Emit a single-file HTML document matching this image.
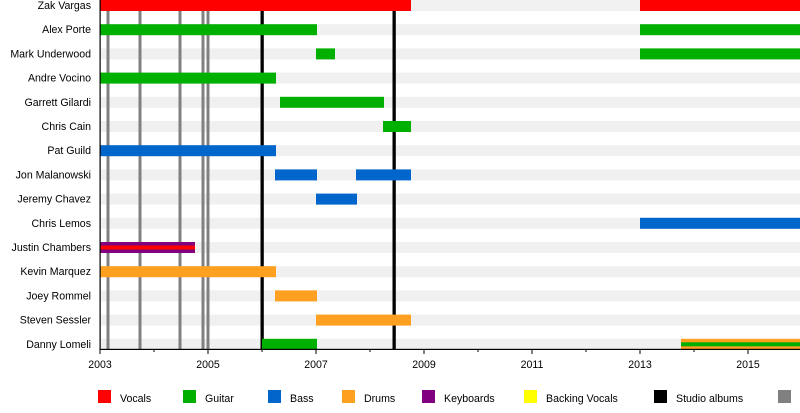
<!DOCTYPE html>
<html><head><meta charset="utf-8"><style>
html,body{margin:0;padding:0;background:#fff;}
svg text{font-family:"Liberation Sans",Arial,sans-serif;font-size:10.6px;fill:#000;}
</style></head><body>
<svg width="800" height="408" xmlns="http://www.w3.org/2000/svg">
<g fill="#f0f0f0">
<rect x="100" y="0" width="700" height="11"/>
<rect x="100" y="24.2" width="700" height="11"/>
<rect x="100" y="48.4" width="700" height="11"/>
<rect x="100" y="72.6" width="700" height="11"/>
<rect x="100" y="96.8" width="700" height="11"/>
<rect x="100" y="121" width="700" height="11"/>
<rect x="100" y="145.2" width="700" height="11"/>
<rect x="100" y="169.4" width="700" height="11"/>
<rect x="100" y="193.6" width="700" height="11"/>
<rect x="100" y="217.8" width="700" height="11"/>
<rect x="100" y="242" width="700" height="11"/>
<rect x="100" y="266.2" width="700" height="11"/>
<rect x="100" y="290.4" width="700" height="11"/>
<rect x="100" y="314.6" width="700" height="11"/>
<rect x="100" y="338.8" width="700" height="11"/>
</g>
<g fill="#808080">
<rect x="106.5" y="0" width="3" height="349"/>
<rect x="138.5" y="0" width="3" height="349"/>
<rect x="178.5" y="0" width="3" height="349"/>
<rect x="201.5" y="0" width="3" height="349"/>
<rect x="206.5" y="0" width="3" height="349"/>
</g>
<g fill="#000">
<rect x="260.5" y="0" width="3.3" height="349"/>
<rect x="392.5" y="0" width="3.3" height="349"/>
</g>
<g>
<rect x="100" y="0" width="311" height="11" fill="#ff0000"/>
<rect x="640" y="0" width="160" height="11" fill="#ff0000"/>
<rect x="100" y="24.2" width="217" height="11" fill="#00b000"/>
<rect x="640" y="24.2" width="160" height="11" fill="#00b000"/>
<rect x="316" y="48.4" width="19" height="11" fill="#00b000"/>
<rect x="640" y="48.4" width="160" height="11" fill="#00b000"/>
<rect x="100" y="72.6" width="176" height="11" fill="#00b000"/>
<rect x="280" y="96.8" width="104" height="11" fill="#00b000"/>
<rect x="383" y="121" width="28" height="11" fill="#00b000"/>
<rect x="100" y="145.2" width="176" height="11" fill="#0066cc"/>
<rect x="275" y="169.4" width="42" height="11" fill="#0066cc"/>
<rect x="356" y="169.4" width="55" height="11" fill="#0066cc"/>
<rect x="316" y="193.6" width="41" height="11" fill="#0066cc"/>
<rect x="640" y="217.8" width="160" height="11" fill="#0066cc"/>
<rect x="100" y="242" width="95" height="11" fill="#800080"/>
<rect x="100" y="245.5" width="95" height="4" fill="#ff0000"/>
<rect x="100" y="266.2" width="176" height="11" fill="#ffa020"/>
<rect x="275" y="290.4" width="42" height="11" fill="#ffa020"/>
<rect x="316" y="314.6" width="95" height="11" fill="#ffa020"/>
<rect x="262" y="338.8" width="55" height="11" fill="#00b000"/>
<rect x="681" y="338.8" width="119" height="11" fill="#ffa020"/>
<rect x="681" y="342.3" width="119" height="4" fill="#00b000"/>
</g>
<rect x="99.5" y="0" width="1.2" height="350" fill="#000"/>
<rect x="99.5" y="348.8" width="701" height="1.2" fill="#000"/>
<g fill="#000">
<rect x="99.5" y="349" width="1" height="5"/><rect x="153.5" y="349" width="1" height="3"/>
<rect x="207.5" y="349" width="1" height="5"/><rect x="261.5" y="349" width="1" height="3"/>
<rect x="315.5" y="349" width="1" height="5"/><rect x="369.5" y="349" width="1" height="3"/>
<rect x="423.5" y="349" width="1" height="5"/><rect x="477.5" y="349" width="1" height="3"/>
<rect x="531.5" y="349" width="1" height="5"/><rect x="585.5" y="349" width="1" height="3"/>
<rect x="639.5" y="349" width="1" height="5"/><rect x="693.5" y="349" width="1" height="3"/>
<rect x="747.5" y="349" width="1" height="5"/>
</g>
<g text-anchor="middle">
<text x="100" y="368">2003</text><text x="208" y="368">2005</text><text x="316" y="368">2007</text>
<text x="424" y="368">2009</text><text x="532" y="368">2011</text><text x="640" y="368">2013</text>
<text x="748" y="368">2015</text>
</g>
<g text-anchor="end">
<text x="91" y="9">Zak Vargas</text>
<text x="91" y="33.2">Alex Porte</text>
<text x="91" y="57.4">Mark Underwood</text>
<text x="91" y="81.6">Andre Vocino</text>
<text x="91" y="105.8">Garrett Gilardi</text>
<text x="91" y="130">Chris Cain</text>
<text x="91" y="154.2">Pat Guild</text>
<text x="91" y="178.4">Jon Malanowski</text>
<text x="91" y="202.6">Jeremy Chavez</text>
<text x="91" y="226.8">Chris Lemos</text>
<text x="91" y="251">Justin Chambers</text>
<text x="91" y="275.2">Kevin Marquez</text>
<text x="91" y="299.4">Joey Rommel</text>
<text x="91" y="323.6">Steven Sessler</text>
<text x="91" y="347.8">Danny Lomeli</text>
</g>
<rect x="98" y="390" width="13" height="13" fill="#ff0000"/><text x="120" y="402">Vocals</text>
<rect x="183" y="390" width="13" height="13" fill="#00b000"/><text x="205" y="402">Guitar</text>
<rect x="268" y="390" width="13" height="13" fill="#0066cc"/><text x="290" y="402">Bass</text>
<rect x="342" y="390" width="13" height="13" fill="#ffa020"/><text x="364" y="402">Drums</text>
<rect x="422" y="390" width="13" height="13" fill="#800080"/><text x="444" y="402">Keyboards</text>
<rect x="524" y="390" width="13" height="13" fill="#ffff00"/><text x="546" y="402">Backing Vocals</text>
<rect x="654" y="390" width="13" height="13" fill="#000"/><text x="676" y="402">Studio albums</text>
<rect x="778" y="390" width="13" height="13" fill="#808080"/>
</svg>
</body></html>
